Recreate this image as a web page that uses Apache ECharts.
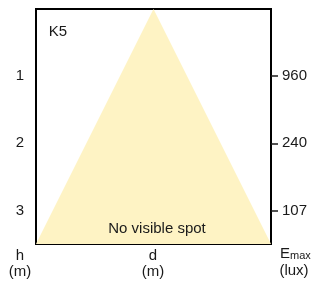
<!DOCTYPE html>
<html>
<head>
<meta charset="utf-8">
<script src="https://cdn.jsdelivr.net/npm/echarts@6/dist/echarts.min.js"></script>
<style>
  html, body { margin: 0; padding: 0; background: #fff; }
  #chart { width: 317px; height: 287px; }
</style>
</head>
<body>
<div id="chart"></div>
<script>
// beam cone outline: d (m) vs h (m)
const coneD = [-2, 0, 2]
const coneH = [3.5, 0, 3.5]
// tick rows
const hTicks = [1, 2, 3]
const emaxLabels = ['960', '240', '107']
const lampName = 'K5'
const spotNote = 'No visible spot'

const chart = echarts.init(document.getElementById('chart'))
const font = 'Liberation Sans, Arial, sans-serif'
const ink = '#1a1a1a'

const yBase = {
    type: 'value',
    inverse: true,
    min: 0,
    max: 3.5,
    interval: 1,
    splitLine: { show: false },
    axisLine: { show: false },
    axisTick: { show: true, length: 7, lineStyle: { color: ink, width: 1.5 },
        customValues: hTicks },
}

function txt(x, y, text, extra) {
    return {
        type: 'text', x: x, y: y, z: 100,
        style: Object.assign({ text: text, fontSize: 15, fill: ink, fontFamily: font,
            align: 'center', verticalAlign: 'middle' }, extra || {})
    }
}

chart.setOption({
    animation: false,
    grid: { left: 36, right: 46, top: 9, bottom: 43, show: true, borderColor: '#000', borderWidth: 2 },
    xAxis: {
        type: 'value', min: -2, max: 2,
        axisLine: { show: false }, axisTick: { show: false },
        axisLabel: { show: false }, splitLine: { show: false }
    },
    yAxis: [
        Object.assign({}, yBase, {
            position: 'left',
            axisLabel: { margin: 12, fontSize: 15, color: ink, fontFamily: font,
                customValues: hTicks, formatter: v => String(v) }
        }),
        Object.assign({}, yBase, {
            position: 'right',
            axisLabel: { margin: 11, fontSize: 15, color: ink, fontFamily: font,
                customValues: hTicks,
                formatter: v => emaxLabels[hTicks.indexOf(v)] || '' }
        })
    ],
    series: [{
        type: 'line',
        data: coneD.map((d, i) => [d, coneH[i]]),
        symbol: 'none',
        lineStyle: { width: 0 },
        areaStyle: { color: '#fef3c4', opacity: 1, origin: 'end' },
        z: 1
    }],
    graphic: [
        txt(58, 32, lampName),
        txt(157, 229, spotNote),
        txt(20, 256, 'h'),
        txt(20, 272, '(m)'),
        txt(153, 256, 'd'),
        txt(153, 272, '(m)'),
        { type: 'text', x: 280, y: 246, z: 100, style: { text: '{e|E}{m|max}', fontFamily: font, fill: ink,
            rich: { e: { fontSize: 15, fill: ink, fontFamily: font, verticalAlign: 'bottom' },
                    m: { fontSize: 11, fill: ink, fontFamily: font, verticalAlign: 'bottom' } } } },
        txt(294, 271, '(lux)')
    ]
})
</script>
</body>
</html>
